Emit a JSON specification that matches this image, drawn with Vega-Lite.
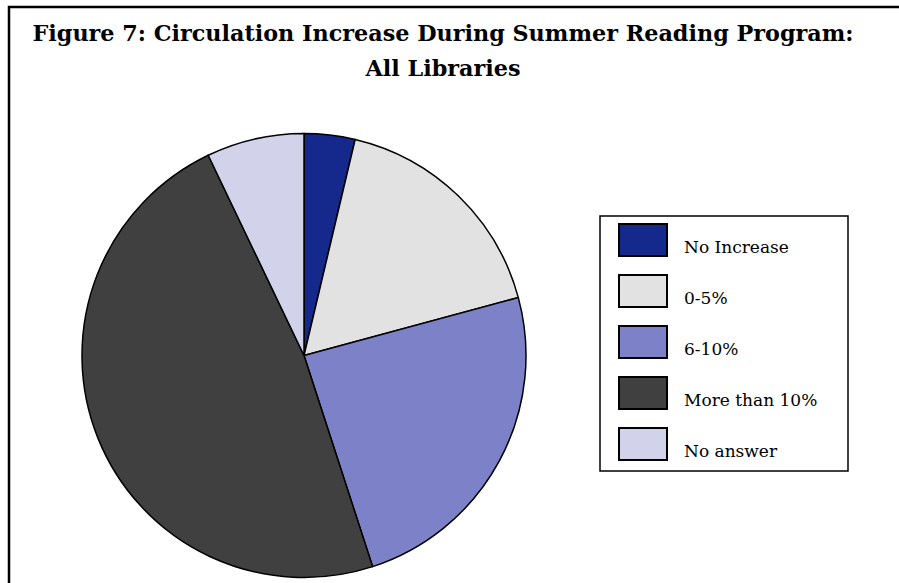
{
  "$schema": "https://vega.github.io/schema/vega-lite/v6.json",
  "width": 900,
  "height": 586,
  "autosize": {"type": "none"},
  "padding": {"left": 9, "top": 7, "right": -10, "bottom": -10},
  "background": "white",
  "view": {"stroke": "black", "strokeWidth": 2.5},
  "title": {
    "text": ["Figure 7: Circulation Increase During Summer Reading Program:", "All Libraries"],
    "font": "DejaVu Serif",
    "fontSize": 22.3,
    "fontWeight": "bold",
    "color": "black",
    "anchor": "middle",
    "frame": "group",
    "offset": 0,
    "dy": 73,
    "dx": -16,
    "lineHeight": 35
  },
  "data": {
    "values": [
      {"category": "No Increase", "percent": 3.7, "order": 1},
      {"category": "0-5%", "percent": 17.1, "order": 2},
      {"category": "6-10%", "percent": 24.2, "order": 3},
      {"category": "More than 10%", "percent": 47.9, "order": 4},
      {"category": "No answer", "percent": 7.1, "order": 5}
    ]
  },
  "mark": {"type": "arc", "x": 295, "y": 348.5, "outerRadius": 222, "stroke": "black", "strokeWidth": 1.5},
  "encoding": {
    "theta": {"field": "percent", "type": "quantitative", "stack": true},
    "order": {"field": "order", "type": "quantitative"},
    "color": {
      "field": "category",
      "type": "nominal",
      "scale": {
        "domain": ["No Increase", "0-5%", "6-10%", "More than 10%", "No answer"],
        "range": ["#15298c", "#e2e2e2", "#7d82c8", "#404040", "#d2d2ea"]
      },
      "legend": {
        "orient": "none",
        "legendX": 591,
        "legendY": 209,
        "title": "\u00a0",
        "titleOrient": "right",
        "titlePadding": 24,
        "titleFontSize": 10,
        "strokeColor": "black",
        "fillColor": "white",
        "padding": 7,
        "symbolType": "M-1,-1L1,-1L1,0.333L-1,0.333Z",
        "symbolSize": 2304,
        "symbolStrokeColor": "black",
        "symbolStrokeWidth": 2,
        "symbolOffset": 11,
        "labelFont": "DejaVu Serif",
        "labelFontSize": 17,
        "labelColor": "black",
        "labelOffset": 16,
        "rowPadding": 11
      }
    }
  },
  "config": {
    "legend": {"strokeWidth": 1.5}
  }
}
